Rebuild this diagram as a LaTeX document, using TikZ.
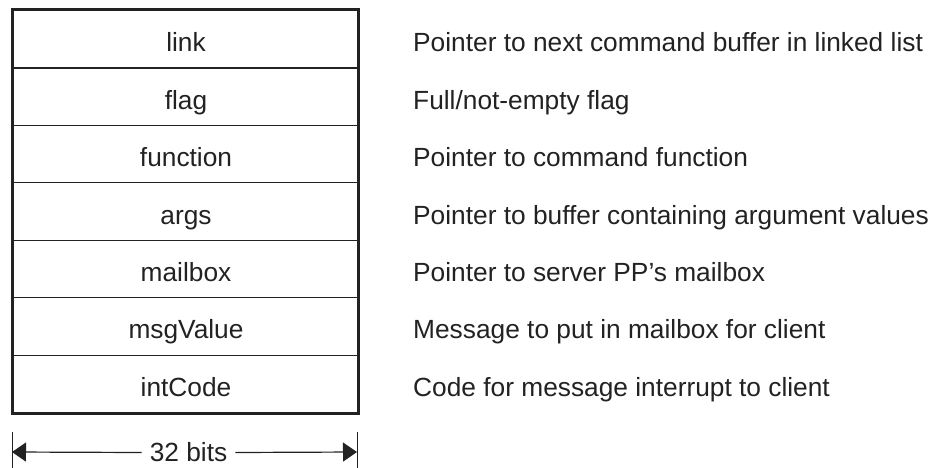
\documentclass[tikz,border=0pt]{standalone}
\usepackage{fontspec}
\setmainfont{Liberation Sans}
\usetikzlibrary{arrows.meta}
\definecolor{ink}{HTML}{222222}
\begin{document}
\begin{tikzpicture}[x=1pt,y=1pt,
  rowbox/.style={draw=ink, line width=1.2pt, minimum width=345pt, minimum height=57.43pt, inner sep=0pt, anchor=north west},
  fieldtxt/.style={anchor=base, text=ink, font=\fontsize{26.3}{30}\selectfont, inner sep=0pt},
  desctxt/.style={anchor=base west, text=ink, font=\fontsize{26.3}{30}\selectfont, inner sep=0pt},
  dimarrow/.style={draw=ink, line width=1.2pt, -{Triangle[length=14pt,width=19pt]}},
  tick/.style={draw=ink, line width=1pt}]
\useasboundingbox (0,0) rectangle (939,-468);
% rows
\node[rowbox] (r1) at (12,-10) {};
\node[rowbox] (r2) at (12,-67.43) {};
\node[rowbox] (r3) at (12,-124.86) {};
\node[rowbox] (r4) at (12,-182.29) {};
\node[rowbox] (r5) at (12,-239.72) {};
\node[rowbox] (r6) at (12,-297.15) {};
\node[rowbox] (r7) at (12,-354.58) {};
\draw[ink, line width=3pt] (r1.north west) rectangle (r7.south east);
% field names
\node[fieldtxt] (f1) at (186,-51.7) {link};
\node[fieldtxt] (f2) at (186,-109.1) {flag};
\node[fieldtxt] (f3) at (186,-166.6) {function};
\node[fieldtxt] (f4) at (186,-224.0) {args};
\node[fieldtxt] (f5) at (186,-281.4) {mailbox};
\node[fieldtxt] (f6) at (186,-338.9) {msgValue};
\node[fieldtxt] (f7) at (186,-396.3) {intCode};
% descriptions
\node[desctxt] (d1) at (413,-51.7) {Pointer to next command buffer in linked list};
\node[desctxt] (d2) at (413,-109.1) {Full/not-empty flag};
\node[desctxt] (d3) at (413,-166.6) {Pointer to command function};
\node[desctxt] (d4) at (413,-224.0) {Pointer to buffer containing argument values};
\node[desctxt] (d5) at (413,-281.4) {Pointer to server PP’s mailbox};
\node[desctxt] (d6) at (413,-338.9) {Message to put in mailbox for client};
\node[desctxt] (d7) at (413,-396.3) {Code for message interrupt to client};
% dimension
\coordinate (tla) at (12,-432);
\coordinate (tlb) at (12,-468);
\coordinate (tra) at (357,-432);
\coordinate (trb) at (357,-468);
\coordinate (dl) at (12,-452);
\coordinate (dr) at (357,-452);
\draw[tick] (tla) -- (tlb);
\draw[tick] (tra) -- (trb);
\node[text=ink, font=\fontsize{26.3}{30}\selectfont, inner xsep=8pt, inner ysep=0pt] (bits) at (188.5,-452.5) {32 bits};
\draw[dimarrow] (bits.west) -- (dl);
\draw[dimarrow] (bits.east) -- (dr);
\end{tikzpicture}
\end{document}
